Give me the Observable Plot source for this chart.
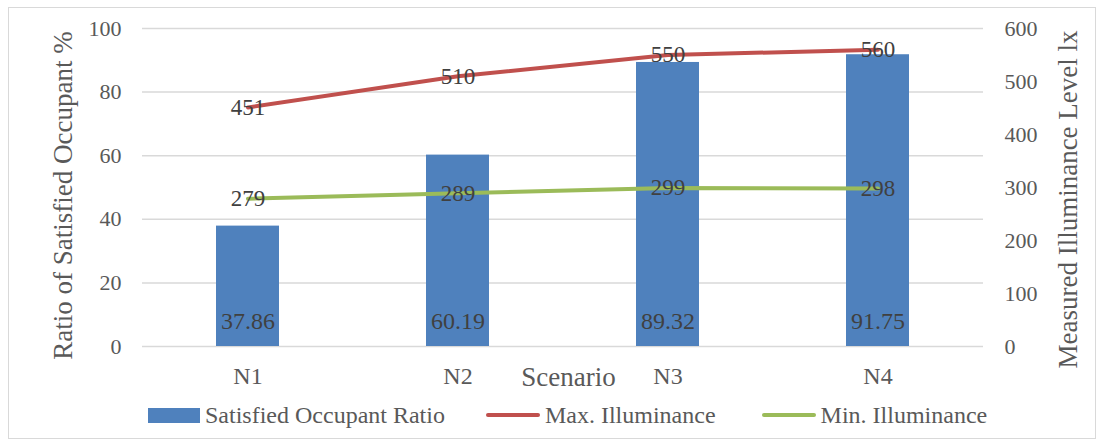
<!DOCTYPE html>
<html>
<head>
<meta charset="utf-8">
<script src="https://cdn.jsdelivr.net/npm/d3@7"></script>
<script src="https://cdn.jsdelivr.net/npm/@observablehq/plot@0.6"></script>
<style>
  html, body { margin: 0; padding: 0; background: #fff; }
  #wrap { position: relative; width: 1106px; height: 448px; overflow: hidden; font-family: "Liberation Serif", "Times New Roman", serif; }
  #frame { position: absolute; left: 8px; top: 7px; width: 1088px; height: 432px; border: 1.5px solid #d9d9d9; box-sizing: border-box; pointer-events: none; }
  #chart { position: absolute; left: 0; top: 0; }
  #legend { position: absolute; left: 148px; top: 400px; height: 30px; display: flex; align-items: center; font-size: 24px; color: #595959; white-space: nowrap; }
  .item { display: flex; align-items: center; }
  .sw { display: inline-block; margin-right: 5px; }
</style>
</head>
<body>
<div id="wrap">
  <div id="chart"></div>
  <div id="legend"></div>
  <div id="frame"></div>
</div>
<script>
const categories = ["N1", "N2", "N3", "N4"];
const satisfied = [37.86, 60.19, 89.32, 91.75];
const maxIllum = [451, 510, 550, 560];
const minIllum = [279, 289, 299, 298];
const leftTicks = [0, 20, 40, 60, 80, 100];
const rightTicks = [0, 100, 200, 300, 400, 500, 600];
const seriesNames = ["Satisfied Occupant Ratio", "Max. Illuminance", "Min. Illuminance"];
const colors = ["#4F81BD", "#C0504D", "#9BBB59"];

const RIGHT_MAX = 600, LEFT_MAX = 100;
const toLeft = v => v * LEFT_MAX / RIGHT_MAX;

const rows = categories.map((c, i) => ({
  cat: c, sat: satisfied[i], max: maxIllum[i], min: minIllum[i]
}));

const fontFamily = '"Liberation Serif", "Times New Roman", serif';
const textGray = "#595959";
const labelGray = "#404040";

const chart = Plot.plot({
  width: 1106,
  height: 392,
  marginLeft: 142,
  marginRight: 123,
  marginTop: 28,
  marginBottom: 46,
  style: { fontFamily, fontSize: "22px", color: textGray, background: "transparent" },
  x: { type: "band", domain: categories, paddingInner: 0.7, paddingOuter: 0.35, align: 0.5 },
  y: { domain: [0, LEFT_MAX] },
  marks: [
    Plot.gridY(leftTicks, { stroke: "#d9d9d9", strokeOpacity: 1, strokeWidth: 1.5 }),
    Plot.axisY(leftTicks, { anchor: "left", tickSize: 0, tickPadding: 21, fontSize: 22, fill: textGray, label: null }),
    Plot.axisY(rightTicks.map(toLeft), { anchor: "right", tickSize: 0, tickPadding: 21, fontSize: 22, fill: textGray, label: null, tickFormat: v => String(Math.round(v * RIGHT_MAX / LEFT_MAX)) }),
    Plot.axisX({ anchor: "bottom", tickSize: 0, tickPadding: 20, fontSize: 24, fill: textGray, label: null }),
    Plot.barY(rows, { x: "cat", y: "sat", fill: colors[0] }),
    Plot.text(rows, { x: "cat", y: 0, text: d => d.sat.toFixed(2), dy: -25, lineAnchor: "middle", fontSize: 24, fill: labelGray }),
    Plot.line(rows, { x: "cat", y: d => toLeft(d.max), stroke: colors[1], strokeWidth: 4, strokeLinecap: "round" }),
    Plot.line(rows, { x: "cat", y: d => toLeft(d.min), stroke: colors[2], strokeWidth: 4, strokeLinecap: "round" }),
    Plot.text(rows, { x: "cat", y: d => toLeft(d.max), text: d => String(d.max), lineAnchor: "middle", fontSize: 23, fill: labelGray }),
    Plot.text(rows, { x: "cat", y: d => toLeft(d.min), text: d => String(d.min), lineAnchor: "middle", fontSize: 23, fill: labelGray }),
    Plot.text(["Scenario"], { frameAnchor: "bottom", textAnchor: "middle", dy: 31, dx: 5.5, lineAnchor: "middle", fontSize: 27, fill: textGray }),
    Plot.text(["Ratio of Satisfied Occupant %"], { frameAnchor: "left", textAnchor: "middle", dx: -79, dy: 8, rotate: -90, lineAnchor: "middle", fontSize: 27, fill: textGray }),
    Plot.text(["Measured Illuminance Level lx"], { frameAnchor: "right", textAnchor: "middle", dx: 85, dy: 12, rotate: -90, lineAnchor: "middle", fontSize: 27, fill: textGray })
  ]
});
document.getElementById("chart").appendChild(chart);

const legend = document.getElementById("legend");
const gaps = [41, 46, 0];
seriesNames.forEach((name, i) => {
  const item = document.createElement("div");
  item.className = "item";
  item.style.marginRight = gaps[i] + "px";
  const sw = document.createElement("span");
  sw.className = "sw";
  sw.style.background = colors[i];
  if (i === 0) { sw.style.width = "52px"; sw.style.height = "15px"; }
  else { sw.style.width = "54px"; sw.style.height = "4px"; sw.style.borderRadius = "2px"; }
  const t = document.createElement("span");
  t.textContent = name;
  item.appendChild(sw);
  item.appendChild(t);
  legend.appendChild(item);
});
</script>
</body>
</html>
